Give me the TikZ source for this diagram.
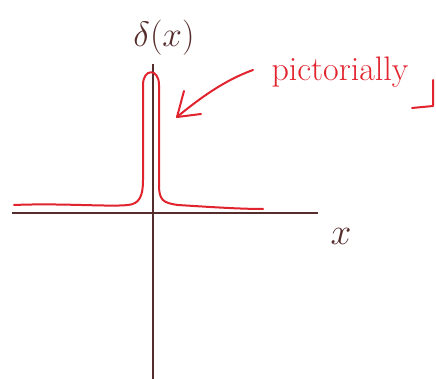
\documentclass[tikz,border=0pt]{standalone}
\usepackage{fontspec}
\usetikzlibrary{arrows.meta}
\definecolor{axisc}{RGB}{85,45,45}
\definecolor{inkred}{RGB}{225,35,45}
\tikzset{
  axisline/.style={draw=axisc, line width=1.4pt},
  redink/.style={draw=inkred, line width=2pt, line cap=round, line join=round},
  lbl/.style={inner sep=0pt}
}
\begin{document}
\begin{tikzpicture}[x=1pt,y=-1pt]
\useasboundingbox (0,0) rectangle (436,379);
% axes
\coordinate (xl) at (12,213);
\coordinate (xr) at (318,213);
\coordinate (yt) at (153,64);
\coordinate (yb) at (153,379);
\draw[axisline] (xl) -- (xr);
\draw[axisline] (yt) -- (yb);
% labels
\node[lbl, text=axisc, font=\huge, scale=1.7] (dlab) at (164,38) {$\delta(x)$};
\node[lbl, text=axisc, font=\huge, scale=1.8] (xlab) at (341,236) {$x$};
\node[lbl, text=inkred, font=\fontsize{34}{34}\selectfont] (pic) at (340,72) {pictorially};
% red spike curve
\draw[redink] (14,205) .. controls (60,203) and (110,207) .. (128,205)
  .. controls (140,204) and (143,195) .. (143,180)
  -- (143,85) .. controls (143,68) and (159,68) .. (159,85)
  -- (159,185) .. controls (159,200) and (163,203) .. (178,205)
  .. controls (210,207) and (240,209) .. (263,209);
% arrow
\coordinate (astart) at (253,70);
\coordinate (tip) at (177,117);
\draw[redink] (astart) .. controls (225,80) and (200,98) .. (tip);
\draw[redink] (tip) -- (184,91);
\draw[redink] (tip) -- (201,114);
% tail stroke at right
\coordinate (ta) at (412,108);
\coordinate (tb) at (433,106);
\coordinate (tc) at (433,80);
\draw[redink] (ta) -- (tb) -- (tc);
\end{tikzpicture}
\end{document}
